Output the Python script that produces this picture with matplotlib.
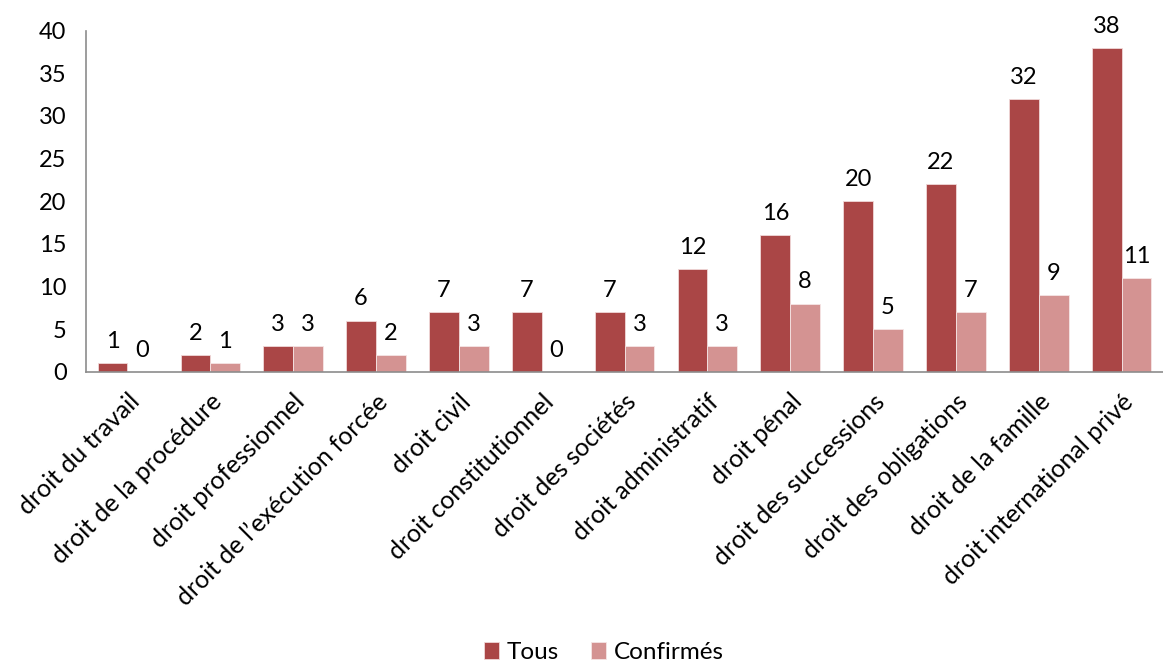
import matplotlib
matplotlib.use("Agg")
import matplotlib.pyplot as plt
import numpy as np

plt.rcParams['font.family'] = ['Lato', 'DejaVu Sans']

categories = ["droit du travail", "droit de la procédure", "droit professionnel",
              "droit de l\u2019exécution forcée", "droit civil", "droit constitutionnel",
              "droit des sociétés", "droit administratif", "droit pénal",
              "droit des successions", "droit des obligations", "droit de la famille",
              "droit international privé"]
tous = [1, 2, 3, 6, 7, 7, 7, 12, 16, 20, 22, 32, 38]
confirmes = [0, 1, 3, 2, 3, 0, 3, 3, 8, 5, 7, 9, 11]
yticks = [0, 5, 10, 15, 20, 25, 30, 35, 40]

c_tous = "#AA4646"
c_conf = "#D49392"

fig = plt.figure(figsize=(11.63, 6.65), dpi=100)
ax = fig.add_axes([0.074, 0.441, 0.926, 0.513])

x = np.arange(len(categories))
w = 0.36
b1 = ax.bar(x - w/2, tous, w, color=c_tous, edgecolor="#F0D8D8", linewidth=0.6, label="Tous")
b2 = ax.bar(x + w/2, confirmes, w, color=c_conf, edgecolor="#F5E5E5", linewidth=0.6, label="Confirmés")

for xi, v in zip(x - w/2, tous):
    ax.annotate(str(v), (xi, v), xytext=(0, 8), textcoords="offset points",
                ha="center", va="bottom", fontsize=17)
for xi, v in zip(x + w/2, confirmes):
    ax.annotate(str(v), (xi, v), xytext=(0, 8), textcoords="offset points",
                ha="center", va="bottom", fontsize=17)

ax.set_xlim(-0.5, len(categories) - 0.5)
ax.set_ylim(0, 40)
ax.set_yticks(yticks)
ax.set_yticklabels([str(t) for t in yticks], fontsize=17)
ax.set_xticks(x)
ax.set_xticklabels(categories, rotation=45, ha="right", rotation_mode="anchor", fontsize=18)
ax.tick_params(axis="y", length=0, pad=14)
ax.tick_params(axis="x", length=0, pad=13)
for s in ["top", "right"]:
    ax.spines[s].set_visible(False)
for s in ["left", "bottom"]:
    ax.spines[s].set_color("#8C8C8C")
    ax.spines[s].set_linewidth(1.2)

fig.legend(handles=[b1, b2], labels=["Tous", "Confirmés"], loc="lower center",
           bbox_to_anchor=(0.519, -0.03), ncol=2, frameon=False, fontsize=17.5,
           handlelength=0.65, handleheight=0.65, handletextpad=0.3, columnspacing=1.3)

fig.savefig("out.png", dpi=100)
